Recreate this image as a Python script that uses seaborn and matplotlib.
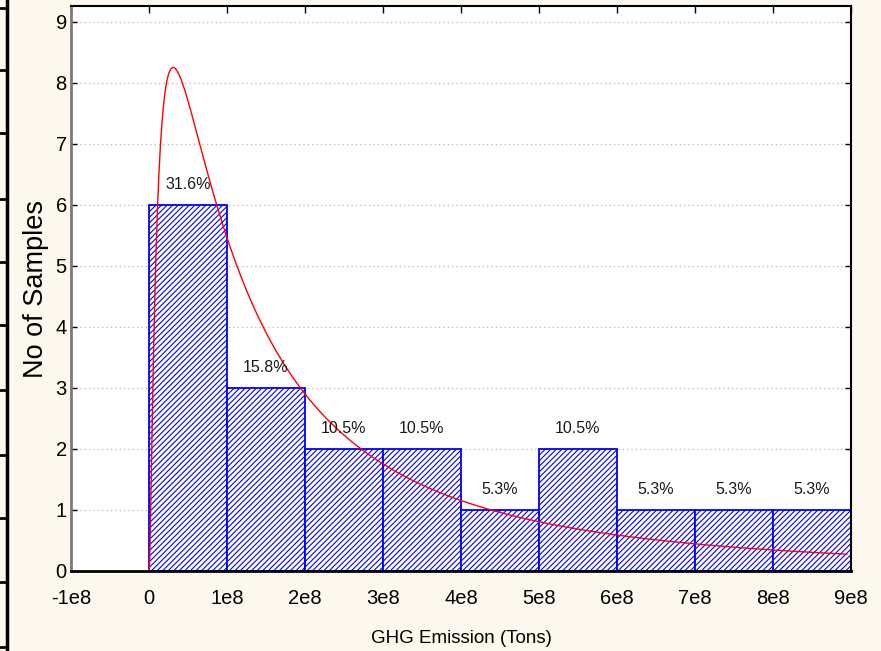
import numpy as np
import matplotlib
matplotlib.use("Agg")
import matplotlib.pyplot as plt
import seaborn as sns
from matplotlib.lines import Line2D

# ---- data ----
bin_edges = [0, 1e8, 2e8, 3e8, 4e8, 5e8, 6e8, 7e8, 8e8, 9e8]
counts = [6, 3, 2, 2, 1, 2, 1, 1, 1]
pct_labels = ["31.6%", "15.8%", "10.5%", "10.5%", "5.3%", "10.5%", "5.3%", "5.3%", "5.3%"]
x_ticks = [-1e8, 0, 1e8, 2e8, 3e8, 4e8, 5e8, 6e8, 7e8, 8e8, 9e8]
x_tick_labels = ["-1e8", "0", "1e8", "2e8", "3e8", "4e8", "5e8", "6e8", "7e8", "8e8", "9e8"]
y_ticks = [0, 1, 2, 3, 4, 5, 6, 7, 8, 9]
# fitted lognormal (expected count per bin) parameters, estimated from the curve
fit_mu = 18.913
fit_sigma = 1.29
fit_x_end = 8.95e8

sns.set_theme(style="white")
plt.rcParams['font.family'] = ['Liberation Sans', 'DejaVu Sans']
plt.rcParams['hatch.color'] = 'blue'
plt.rcParams['hatch.linewidth'] = 0.8
plt.rcParams['text.color'] = 'black'
plt.rcParams['axes.labelcolor'] = 'black'

bg = '#FDF8ED'
fig = plt.figure(figsize=(8.81, 6.51), dpi=100, facecolor=bg)
ax = fig.add_axes([71/881, 1-571/651, (851-71)/881, (571-6)/651])
ax.set_facecolor('white')

centers = [(bin_edges[i] + bin_edges[i+1]) / 2 for i in range(len(counts))]
sns.histplot(x=centers, weights=counts, bins=bin_edges, ax=ax,
             stat='count', facecolor='white', edgecolor='blue',
             linewidth=1.3, alpha=1.0)
for p in ax.patches:
    p.set_hatch('//////')
    p.set_edgecolor('blue')
    p.set_facecolor('white')

# fitted curve
n = sum(counts)
w = bin_edges[1] - bin_edges[0]
xs = np.linspace(2e5, fit_x_end, 1500)
ys = n * w * np.exp(-(np.log(xs) - fit_mu) ** 2 / (2 * fit_sigma ** 2)) / (xs * fit_sigma * np.sqrt(2 * np.pi))
sns.lineplot(x=xs, y=ys, ax=ax, color='red', linewidth=1.0)

# percentage labels
for c, h, lab in zip(centers, counts, pct_labels):
    ax.annotate(lab, (c, h), xytext=(0, 9), textcoords='offset points',
                ha='center', va='bottom', fontsize=11.5, color='#1a1a1a')

ax.set_xlim(-1e8, 9e8)
ax.set_ylim(0, 9.26)
ax.set_xticks(x_ticks)
ax.set_xticklabels(x_tick_labels)
ax.set_yticks(y_ticks)
ax.tick_params(axis='both', labelsize=14.5, colors='black', labelcolor='black')
ax.tick_params(axis='x', bottom=False, top=True, direction='in', length=5, width=1, pad=13)
ax.tick_params(axis='y', left=True, right=True, direction='in', length=4, width=1, pad=3)

ax.set_axisbelow(True)
ax.yaxis.grid(True, linestyle=(0, (1, 2.5)), color='#b5b5b5', linewidth=0.9)
ax.xaxis.grid(False)

ax.set_xlabel('GHG Emission (Tons)', fontsize=13.5, labelpad=16)
ax.set_ylabel('No of Samples', fontsize=19.5, labelpad=5)

for s in ['top', 'right', 'bottom']:
    ax.spines[s].set_color('black')
    ax.spines[s].set_visible(True)
ax.spines['top'].set_linewidth(1.5)
ax.spines['right'].set_linewidth(1.5)
ax.spines['bottom'].set_linewidth(2)
ax.spines['left'].set_color('#7a7a7a')
ax.spines['left'].set_linewidth(2)

# decorative left border strip present in the reference image
fig.add_artist(Line2D([7/881, 7/881], [0, 1], transform=fig.transFigure, color='black', linewidth=2.5))
for ypx in [8, 70, 133, 199, 262, 325, 390, 455, 518, 582, 647]:
    yy = 1 - ypx / 651
    fig.add_artist(Line2D([0, 7/881], [yy, yy], transform=fig.transFigure, color='black', linewidth=2))

fig.savefig('out.png', dpi=100, facecolor=bg)
